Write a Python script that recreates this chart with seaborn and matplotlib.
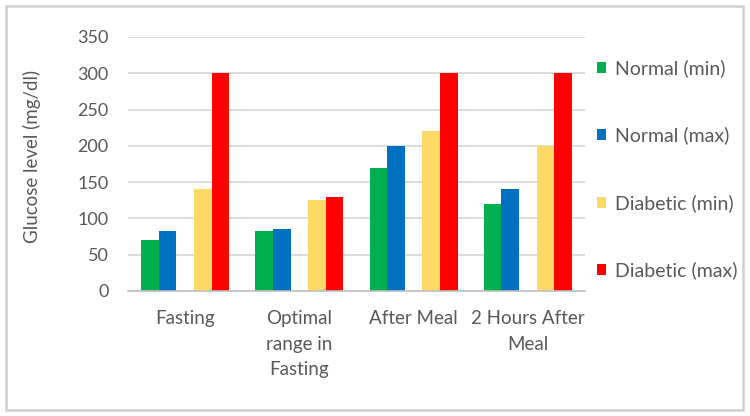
import pandas as pd
import matplotlib.pyplot as plt
import seaborn as sns
from matplotlib.patches import Patch, Rectangle

# data
stages = ["Fasting", "Optimal\nrange in\nFasting", "After Meal", "2 Hours After\nMeal"]
normal_min = [70, 83, 170, 120]
normal_max = [83, 85, 200, 140]
diabetic_min = [140, 125, 220, 200]
diabetic_max = [300, 130, 300, 300]

series_names = ["Normal (min)", "Normal (max)", "Diabetic (min)", "Diabetic (max)"]
colors = ["#00B050", "#0070C0", "#FFD966", "#FF0000"]

df = pd.DataFrame({
    "Stage": stages,
    "Normal (min)": normal_min,
    "Normal (max)": normal_max,
    "Diabetic (min)": diabetic_min,
    "Diabetic (max)": diabetic_max,
})
df = df.melt(id_vars="Stage", var_name="Series", value_name="Glucose")

sns.set_style("white")
plt.rcParams["font.family"] = ["Lato", "DejaVu Sans"]
text_color = "#595959"

fig = plt.figure(figsize=(7.5, 4.16), dpi=100)
ax = fig.add_axes([0.1707, 0.3005, 0.6093, 0.6106])

# an empty slot between the normal and diabetic bars, as in the original
hue_order = ["Normal (min)", "Normal (max)", "_gap", "Diabetic (min)", "Diabetic (max)"]
palette = dict(zip(series_names, colors))
palette["_gap"] = "white"
sns.barplot(data=df, x="Stage", y="Glucose", hue="Series", order=stages,
            hue_order=hue_order, palette=palette, width=0.77, saturation=1,
            legend=False, ax=ax, linewidth=0)

ax.set_xlim(-0.5, len(stages) - 0.5)
ax.set_ylim(0, 350)
ax.set_yticks(range(0, 351, 50))
ax.grid(axis="y", color="#D9D9D9", linewidth=1.3)
ax.set_axisbelow(True)
for s in ["top", "right", "left"]:
    ax.spines[s].set_visible(False)
ax.spines["bottom"].set_color("#BFBFBF")
ax.spines["bottom"].set_linewidth(1.2)

ax.tick_params(axis="y", length=0, pad=14, labelsize=13, labelcolor=text_color)
ax.tick_params(axis="x", which="major", length=0, pad=14, labelsize=13.5, labelcolor=text_color)
ax.set_xticks([i - 0.5 for i in range(len(stages) + 1)], minor=True)
ax.tick_params(axis="x", which="minor", length=5, color="#BFBFBF", width=1.2)
for lbl in ax.get_xticklabels():
    lbl.set_linespacing(1.6)

ax.set_xlabel("")
ax.set_ylabel("Glucose level (mg/dl)", fontsize=13.5, color=text_color)
ax.yaxis.set_label_coords(-0.19, 0.53)

handles = [Patch(facecolor=c, edgecolor="none") for c in colors]
fig.legend(handles, series_names, loc="upper left", bbox_to_anchor=(0.772, 0.9),
           frameon=False, fontsize=14, labelcolor=text_color, labelspacing=2.55,
           handlelength=0.5, handleheight=0.5, handletextpad=0.45)

# light chart-area border
fig.patches.append(Rectangle((0.008, 0.015), 0.982, 0.97, transform=fig.transFigure,
                             fill=False, edgecolor="#D0D0D0", linewidth=1.8))

fig.savefig("out.png", dpi=100)
